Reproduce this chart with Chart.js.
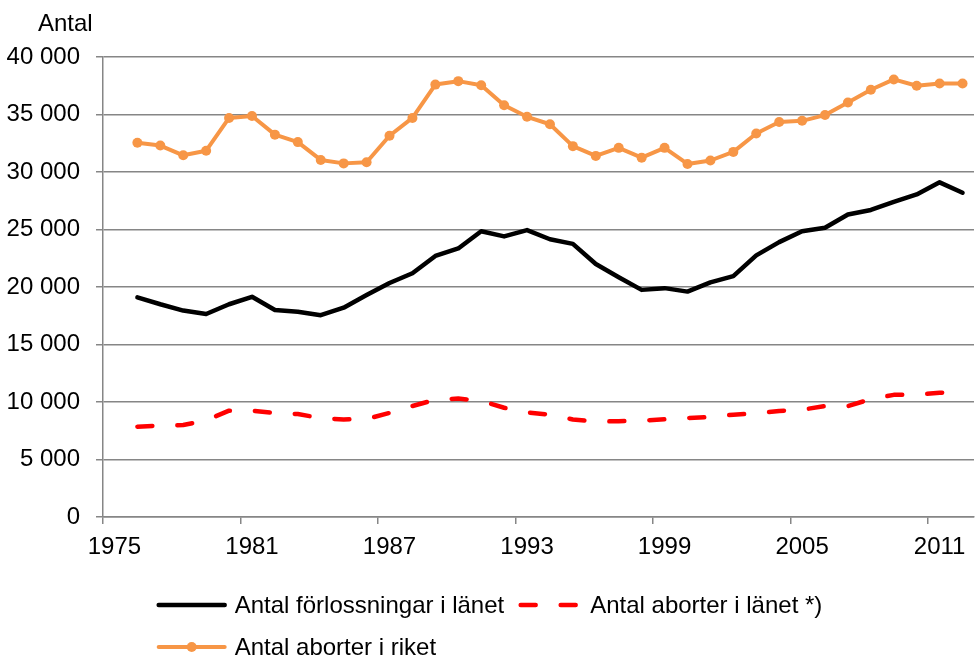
<!DOCTYPE html>
<html>
<head>
<meta charset="utf-8">
<script src="https://cdn.jsdelivr.net/npm/chart.js@4.4.0/dist/chart.umd.min.js"></script>
<style>
  html, body { margin: 0; padding: 0; background: #fff; }
  #wrap { width: 979px; height: 657px; }
</style>
</head>
<body>
<div id="wrap"><canvas id="chart"></canvas></div>
<script>
// år 1975-2012, serierna börjar 1976
const years = [
  '1975','1976','1977','1978','1979','1980','1981','1982','1983','1984',
  '1985','1986','1987','1988','1989','1990','1991','1992','1993','1994',
  '1995','1996','1997','1998','1999','2000','2001','2002','2003','2004',
  '2005','2006','2007','2008','2009','2010','2011','2012'
];

const forlossningarLanet = [
  null, 19100, 18500, 17950, 17650, 18500, 19150, 18000, 17850, 17550,
  18200, 19300, 20350, 21200, 22700, 23350, 24850, 24400, 24950, 24150,
  23750, 22000, 20850, 19750, 19900, 19600, 20400, 20950, 22750, 23900,
  24850, 25150, 26300, 26700, 27400, 28050, 29100, 28200
];

const abortLanet = [
  null, 7850, 7950, 8000, 8400, 9250, 9250, 9050, 8950, 8600,
  8480, 8520, 9050, 9650, 10200, 10300, 10100, 9500, 9100, 8900,
  8480, 8300, 8330, 8380, 8500, 8600, 8700, 8900, 9000, 9220,
  9330, 9650, 9650, 10250, 10620, 10650, 10800, 10900
];

const abortRiket = [
  null, 32550, 32300, 31450, 31850, 34700, 34870, 33250, 32600, 31050,
  30750, 30850, 33150, 34700, 37600, 37900, 37550, 35800, 34800, 34150,
  32250, 31400, 32100, 31250, 32100, 30700, 31000, 31750, 33350, 34350,
  34450, 34950, 36050, 37150, 38050, 37500, 37700, 37700
];

const labels = ['Antal förlossningar i länet', 'Antal aborter i länet *)', 'Antal aborter i riket'];

const fontFamily = '"Liberation Sans", Arial, sans-serif';
const fontSize = 24;
const axisGray = '#868686';

function fmt(v) {
  return String(v).replace(/\B(?=(\d{3})+(?!\d))/g, ' ');
}

// "Antal" ovanför y-axeln
const axisTitle = {
  id: 'axisTitle',
  afterDraw(chart) {
    const ctx = chart.ctx;
    ctx.save();
    ctx.font = fontSize + 'px ' + fontFamily;
    ctx.fillStyle = '#000';
    ctx.textAlign = 'left';
    ctx.textBaseline = 'alphabetic';
    ctx.fillText('Antal', chart.chartArea.left - 65, chart.chartArea.top - 26);
    ctx.restore();
  }
};

// legend i Excel-stil: rad 1 centrerad, rad 2 vänsterställd under den
const excelLegend = {
  id: 'excelLegend',
  afterDraw(chart) {
    const ctx = chart.ctx;
    const ds = chart.data.datasets;
    const sym = 70, gap = 8;
    ctx.save();
    ctx.font = fontSize + 'px ' + fontFamily;
    const w = i => sym + gap + ctx.measureText(ds[i].label).width;
    const rows = [[0, 1], [2]];
    const rowW = w(0) + gap + w(1);
    const x0 = (chart.width - rowW) / 2;
    const y0 = chart.chartArea.bottom + 88;
    rows.forEach((row, r) => {
      let x = x0;
      const y = y0 + r * 42;
      row.forEach(i => {
        const d = ds[i];
        ctx.save();
        ctx.strokeStyle = d.borderColor;
        ctx.lineWidth = d.borderWidth;
        ctx.lineCap = 'round';
        ctx.setLineDash(d.borderDash || []);
        ctx.beginPath();
        if (d.borderDash) {
          ctx.moveTo(x + 8.5, y);
        } else {
          ctx.moveTo(x + 2, y);
        }
        ctx.lineTo(x + sym - 2, y);
        ctx.stroke();
        if (d.pointRadius) {
          ctx.setLineDash([]);
          ctx.fillStyle = d.pointBackgroundColor;
          ctx.beginPath();
          ctx.arc(x + sym / 2, y, d.pointRadius, 0, Math.PI * 2);
          ctx.fill();
        }
        ctx.restore();
        ctx.fillStyle = '#000';
        ctx.textAlign = 'left';
        ctx.textBaseline = 'middle';
        ctx.fillText(d.label, x + sym + gap, y + 1);
        x += w(i) + gap;
      });
    });
    ctx.restore();
  }
};

const config = {
  type: 'line',
  data: {
    labels: years,
    datasets: [
      {
        label: labels[0],
        data: forlossningarLanet,
        borderColor: '#000000',
        backgroundColor: '#000000',
        borderWidth: 4.5,
        pointRadius: 0,
        borderJoinStyle: 'round',
        borderCapStyle: 'round',
        tension: 0
      },
      {
        label: labels[1],
        data: abortLanet,
        borderColor: '#FF0000',
        backgroundColor: '#FF0000',
        borderWidth: 4.5,
        borderDash: [15, 25],
        pointRadius: 0,
        borderJoinStyle: 'round',
        borderCapStyle: 'round',
        tension: 0
      },
      {
        label: labels[2],
        data: abortRiket,
        borderColor: '#F79646',
        backgroundColor: '#F79646',
        pointBackgroundColor: '#F79646',
        pointBorderColor: '#F79646',
        borderWidth: 4,
        pointRadius: 5,
        pointBorderWidth: 0,
        borderJoinStyle: 'round',
        borderCapStyle: 'round',
        tension: 0
      }
    ]
  },
  options: {
    responsive: true,
    maintainAspectRatio: false,
    animation: false,
    layout: { padding: { left: 7, top: 57, right: 0, bottom: 96 } },
    plugins: {
      legend: { display: false },
      tooltip: { enabled: false }
    },
    scales: {
      x: {
        type: 'category',
        offset: true,
        afterFit: scale => { scale.height = 44; },
        grid: {
          offset: true,
          drawOnChartArea: false,
          tickLength: 7,
          lineWidth: 1.5,
          color: ctx => ctx.index % 6 === 0 ? axisGray : 'rgba(0,0,0,0)'
        },
        border: { color: axisGray, width: 1.5 },
        ticks: {
          autoSkip: false,
          maxRotation: 0,
          padding: 9,
          color: '#000',
          font: { family: fontFamily, size: fontSize },
          callback: function (v, i) {
            return i % 6 === 0 ? this.getLabelForValue(v) : '';
          }
        }
      },
      y: {
        min: 0,
        max: 40000,
        afterFit: scale => { scale.width = 96; },
        ticks: {
          stepSize: 5000,
          padding: 16,
          color: '#000',
          font: { family: fontFamily, size: fontSize },
          callback: v => fmt(v)
        },
        grid: { color: axisGray, lineWidth: 1.5, tickLength: 7 },
        border: { color: axisGray, width: 1.5 }
      }
    }
  },
  plugins: [axisTitle, excelLegend]
};

// vänta på typsnittet så att Chart.js mäter texten rätt
const fontReady = document.fonts && document.fonts.load
  ? document.fonts.load(fontSize + 'px "Liberation Sans"').catch(() => null)
  : Promise.resolve();

fontReady.then(() => {
  const myChart = new Chart(document.getElementById('chart'), config);
});
</script>
</body>
</html>
